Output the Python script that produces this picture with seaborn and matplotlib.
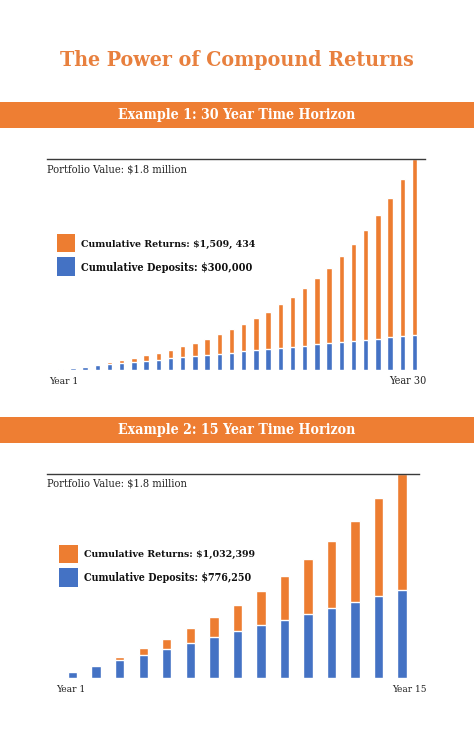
import matplotlib
matplotlib.use("Agg")
import matplotlib.pyplot as plt
from matplotlib.patches import Rectangle
import seaborn as sns
import pandas as pd

# ---------------- data ----------------
years_30 = list(range(1, 31))
deposits_30 = [10000, 20000, 30000, 40000, 50000, 60000, 70000, 80000, 90000, 100000,
               110000, 120000, 130000, 140000, 150000, 160000, 170000, 180000, 190000, 200000,
               210000, 220000, 230000, 240000, 250000, 260000, 270000, 280000, 290000, 300000]
returns_30 = [1000, 3100, 6410, 11051, 17156, 24872, 34359, 45795, 59374, 75312,
              93843, 115227, 139750, 167725, 199497, 235447, 275992, 321591, 372750, 430025,
              494027, 565430, 644973, 733471, 831818, 940999, 1062099, 1196309, 1344940, 1509434]

years_15 = list(range(1, 16))
deposits_15 = [51750, 103500, 155250, 207000, 258750, 310500, 362250, 414000, 465750, 517500,
               569250, 621000, 672750, 724500, 776250]
returns_15 = [5175, 16043, 33172, 57189, 88783, 128710, 177807, 236988, 307262, 389738,
              485637, 596300, 723206, 867976, 1032399]

title = "The Power of Compound Returns"
banner_1 = "Example 1: 30 Year Time Horizon"
banner_2 = "Example 2: 15 Year Time Horizon"
portfolio_label = "Portfolio Value: $1.8 million"
legend_1 = ["Cumulative Returns: $1,509, 434", "Cumulative Deposits: $300,000"]
legend_2 = ["Cumulative Returns: $1,032,399", "Cumulative Deposits: $776,250"]

ORANGE = "#ED7D31"
BLUE = "#4472C4"
TITLE_ORANGE = "#E8803E"
BANNER_ORANGE = "#EE7E33"

sns.set_theme(style="white")
plt.rcParams["font.family"] = ["DejaVu Serif"]

W, H = 474, 756
fig = plt.figure(figsize=(W / 100, H / 100), dpi=100)
fig.patch.set_facecolor("white")


def fx(x):
    return x / W


def fy(y):
    return 1 - y / H


renderer = fig.canvas.get_renderer()


def fit_text(x, y, s, target_w, ha="left", **kw):
    kw.setdefault("fontstretch", "condensed")
    t = fig.text(fx(x), fy(y), s, ha=ha, va="center", fontsize=10, **kw)
    w = t.get_window_extent(renderer).width
    t.set_fontsize(10 * target_w / w)
    return t


# title
fit_text(237, 60, title, 355, ha="center", color=TITLE_ORANGE, fontweight="bold")

# banners
for (y0, y1, s, tw) in [(102, 127.5, banner_1, 237), (417, 443, banner_2, 237)]:
    fig.patches.append(Rectangle((0, fy(y1)), 1, fy(y0) - fy(y1), transform=fig.transFigure,
                                 facecolor=BANNER_ORANGE, edgecolor="none", zorder=1))
    fit_text(237, (y0 + y1) / 2, s, tw, ha="center", color="white", zorder=2,
             fontweight="bold")


def make_chart(rect_px, years, deposits, returns, xlim, width):
    left, top, right, bottom = rect_px
    ax = fig.add_axes([fx(left), fy(bottom), fx(right) - fx(left), fy(top) - fy(bottom)])
    ax.patch.set_alpha(0)
    totals = [d + r for d, r in zip(deposits, returns)]
    df = pd.DataFrame({"year": [str(y) for y in years], "total": totals, "deposits": deposits})
    sns.barplot(data=df, x="year", y="total", color=ORANGE, width=width, ax=ax,
                saturation=1, errorbar=None)
    sns.barplot(data=df, x="year", y="deposits", color=BLUE, width=width, ax=ax,
                saturation=1, errorbar=None)
    ax.set_xlim(*xlim)
    ax.set_ylim(0, max(totals))
    for s in ["left", "right", "bottom"]:
        ax.spines[s].set_visible(False)
    ax.spines["top"].set_visible(True)
    ax.spines["top"].set_color("#3a3a3a")
    ax.spines["top"].set_linewidth(1.0)
    ax.set_xticks([])
    ax.set_yticks([])
    ax.set_xlabel("")
    ax.set_ylabel("")
    return ax


make_chart((47, 159, 425, 370), years_30, deposits_30, returns_30, (-1.12, 29.86), 0.45)
make_chart((47, 474, 419, 678), years_15, deposits_15, returns_15, (-1.09, 14.72), 0.40)

# chart 1 annotations
fit_text(47, 170, portfolio_label, 139, color="#222222")
fig.patches.append(Rectangle((fx(56.7), fy(251.7)), fx(18.3), fy(234.3) - fy(251.7),
                             transform=fig.transFigure, facecolor=ORANGE, edgecolor="none"))
fig.patches.append(Rectangle((fx(56.7), fy(275.7)), fx(18.3), fy(257.3) - fy(275.7),
                             transform=fig.transFigure, facecolor=BLUE, edgecolor="none"))
fit_text(80.7, 244, legend_1[0], 175, color="#111111", fontweight="bold")
fit_text(80.7, 267.3, legend_1[1], 171, color="#111111", fontweight="bold")
fit_text(49, 381.5, "Year 1", 29, color="#222222")
fit_text(426, 381.5, "Year 30", 37, ha="right", color="#222222")

# chart 2 annotations
fit_text(47, 484, portfolio_label, 139, color="#222222")
fig.patches.append(Rectangle((fx(59.3), fy(562.7)), fx(18.4), fy(545) - fy(562.7),
                             transform=fig.transFigure, facecolor=ORANGE, edgecolor="none"))
fig.patches.append(Rectangle((fx(59.3), fy(586.7)), fx(18.4), fy(568.3) - fy(586.7),
                             transform=fig.transFigure, facecolor=BLUE, edgecolor="none"))
fit_text(84.3, 554, legend_2[0], 171, color="#111111", fontweight="bold")
fit_text(84.3, 577.3, legend_2[1], 167, color="#111111", fontweight="bold")
fit_text(56, 689, "Year 1", 29, color="#222222")
fit_text(427, 689, "Year 15", 34, ha="right", color="#222222")

fig.savefig("out.png", dpi=100, facecolor="white")
